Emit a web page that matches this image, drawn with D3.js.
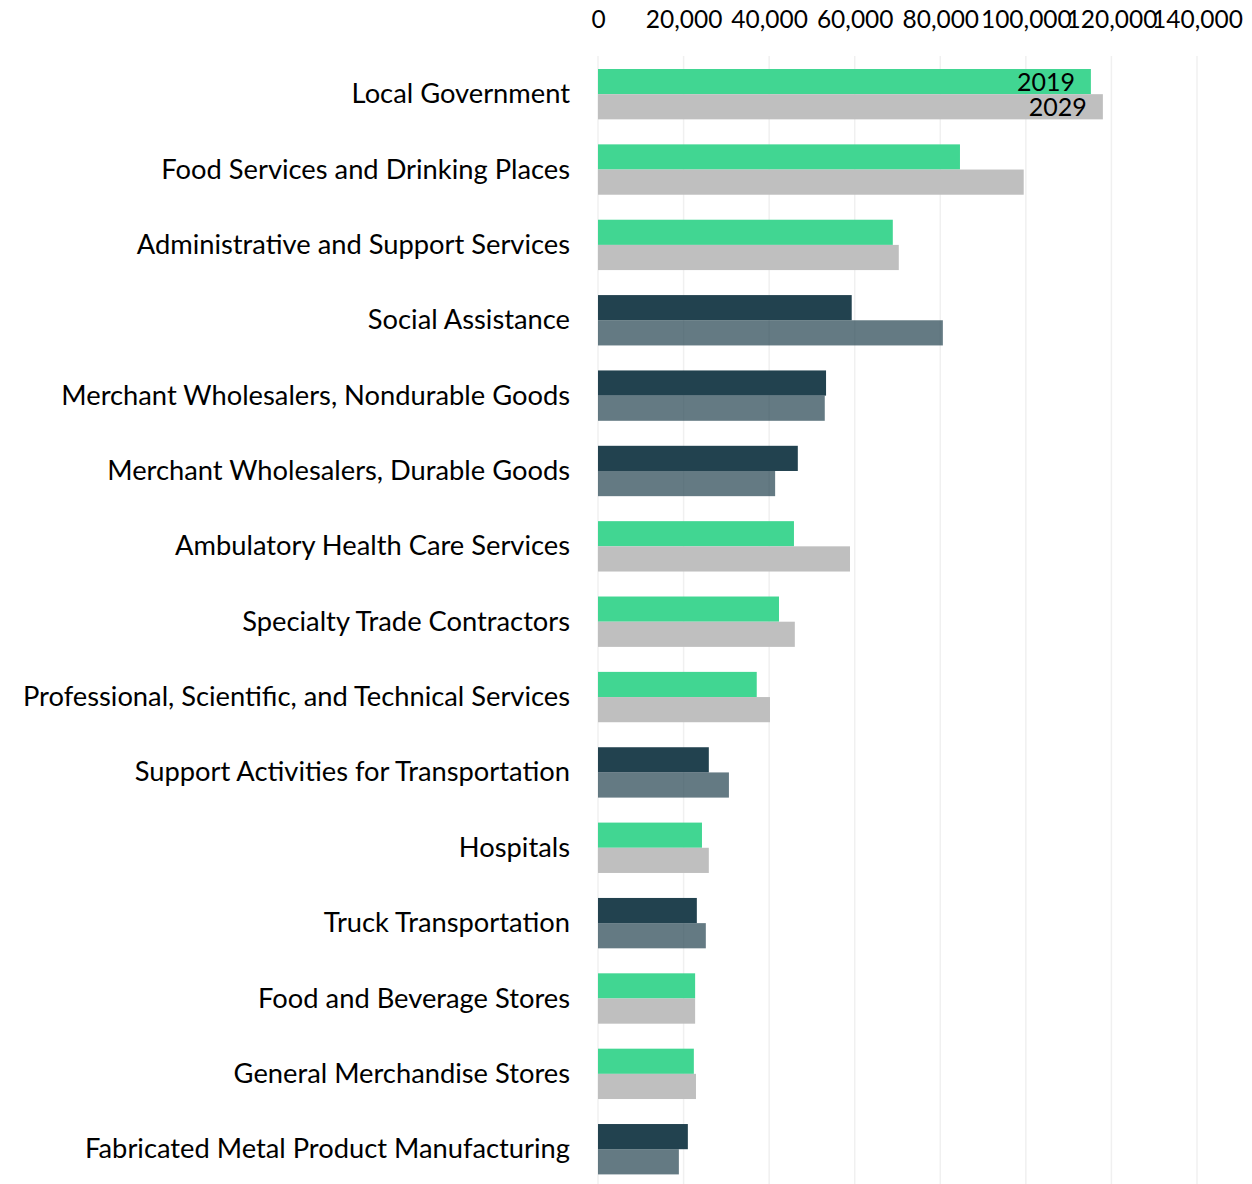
<!DOCTYPE html>
<html>
<head>
<meta charset="utf-8">
<script src="https://cdn.jsdelivr.net/npm/d3@7"></script>
<style>
    body { margin: 0; background: #fff; }
    text { font-family: Lato, "Open Sans", sans-serif; fill: #000; }
</style>
</head>
<body>
<div id="chart"></div>
<script>

// categories, top to bottom
let industries = [
    "Local Government",
    "Food Services and Drinking Places",
    "Administrative and Support Services",
    "Social Assistance",
    "Merchant Wholesalers, Nondurable Goods",
    "Merchant Wholesalers, Durable Goods",
    "Ambulatory Health Care Services",
    "Specialty Trade Contractors",
    "Professional, Scientific, and Technical Services",
    "Support Activities for Transportation",
    "Hospitals",
    "Truck Transportation",
    "Food and Beverage Stores",
    "General Merchandise Stores",
    "Fabricated Metal Product Manufacturing"
];

// employment values
let jobs2019 = [115200, 84600, 68900, 59300, 53300, 46700, 45800, 42300, 37100, 25900, 24300, 23100, 22700, 22400, 21000];
let jobs2029 = [118000, 99500, 70300, 80600, 53000, 41400, 58900, 46000, 40200, 30600, 25900, 25200, 22700, 22900, 18900];

// which rows are highlighted in the dark palette
let darkRows = ["Social Assistance", "Merchant Wholesalers, Nondurable Goods", "Merchant Wholesalers, Durable Goods",
    "Support Activities for Transportation", "Truck Transportation", "Fabricated Metal Product Manufacturing"];

let tickValues = [0, 20000, 40000, 60000, 80000, 100000, 120000, 140000];
let seriesLabels = ["2019", "2029"];

let width = 1252, height = 1184;

let svg = d3.select("#chart").append("svg")
    .attr("width", width)
    .attr("height", height);

let x = d3.scaleLinear()
    .domain([0, 140000])
    .range([598, 1197]);

let y = d3.scaleBand()
    .domain(industries)
    .range([56.5, 56.5 + 75.36 * industries.length])
    .paddingInner(0.3317)
    .paddingOuter(0.1659);

let sub = d3.scaleBand()
    .domain(seriesLabels)
    .range([0, y.bandwidth()]);

// gridlines
svg.append("g")
    .selectAll("line")
    .data(tickValues)
    .enter().append("line")
    .attr("x1", d => x(d))
    .attr("x2", d => x(d))
    .attr("y1", 56)
    .attr("y2", height)
    .attr("stroke", "#f0f0f0")
    .attr("stroke-width", 1.5);

// top axis labels
let xAxis = d3.axisTop(x)
    .tickValues(tickValues)
    .tickSize(0)
    .tickFormat(d3.format(","));

svg.append("g")
    .attr("class", "x axis")
    .attr("transform", "translate(0,31)")
    .call(xAxis)
    .call(g => g.select(".domain").remove())
    .selectAll("text")
    .attr("dy", 0)
    .style("font-size", "24.5px")
    .style("font-family", "Lato, 'Open Sans', sans-serif")
    .attr("fill", "#000");

// rows
let rows = industries.map((name, i) => ({
    name: name,
    v2019: jobs2019[i],
    v2029: jobs2029[i],
    dark: darkRows.includes(name)
}));

let row = svg.append("g")
    .selectAll("g")
    .data(rows)
    .enter().append("g")
    .attr("transform", d => `translate(0,${y(d.name)})`);

row.append("rect")
    .attr("x", x(0))
    .attr("y", sub("2019"))
    .attr("width", d => x(d.v2019) - x(0))
    .attr("height", sub.bandwidth())
    .attr("fill", d => d.dark ? "#22424f" : "#41d692");

row.append("rect")
    .attr("x", x(0))
    .attr("y", sub("2029"))
    .attr("width", d => x(d.v2029) - x(0))
    .attr("height", sub.bandwidth())
    .attr("fill", d => d.dark ? "#22424f" : "#bfbfbf")
    .attr("fill-opacity", d => d.dark ? 0.7 : 1);

// category labels
row.append("text")
    .attr("x", 570)
    .attr("y", y.bandwidth() / 2)
    .attr("dy", "0.33em")
    .attr("text-anchor", "end")
    .style("font-size", "27.3px")
    .text(d => d.name);

// series labels on the first row
let first = rows[0];
svg.append("text")
    .attr("x", x(first.v2019) - 16)
    .attr("y", y(first.name) + sub("2019") + sub.bandwidth() / 2)
    .attr("dy", "0.38em")
    .attr("text-anchor", "end")
    .style("font-size", "25px")
    .text("2019");

svg.append("text")
    .attr("x", x(first.v2029) - 16)
    .attr("y", y(first.name) + sub("2029") + sub.bandwidth() / 2)
    .attr("dy", "0.38em")
    .attr("text-anchor", "end")
    .style("font-size", "25px")
    .text("2029");

</script>
</body>
</html>
